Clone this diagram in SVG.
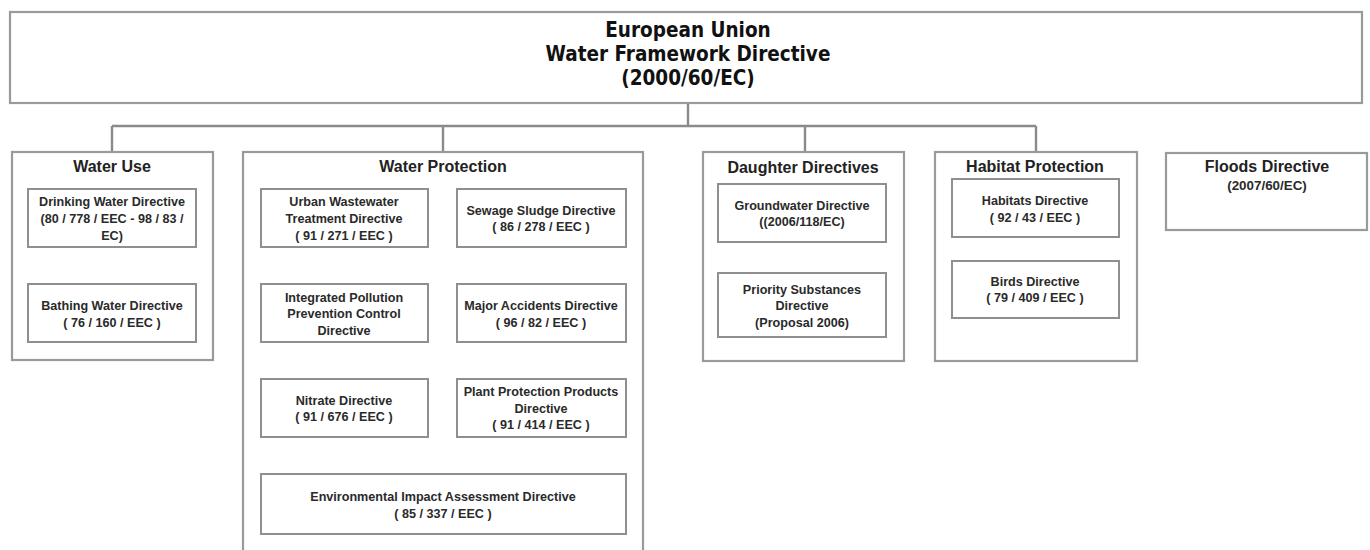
<svg xmlns="http://www.w3.org/2000/svg" width="1370" height="550" viewBox="0 0 1370 550">
<style>
.box{fill:#fff;stroke:#9a9a9a;stroke-width:2.2}
.in{fill:#fff;stroke:#8f8f8f;stroke-width:2}
.con{fill:none;stroke:#8a8a8a;stroke-width:2.4}
.top{font-family:"DejaVu Sans",sans-serif;font-stretch:condensed;font-weight:bold;font-size:20.5px;fill:#111;text-anchor:middle}
.sec{font-family:"Liberation Sans",Arial,sans-serif;font-weight:bold;font-size:16px;fill:#222;text-anchor:middle}
.t{font-family:"Liberation Sans",Arial,sans-serif;font-weight:bold;font-size:12.6px;fill:#2a2a2a;text-anchor:middle}
</style>
<rect width="1370" height="550" fill="#fff"/>
<g id="connectors">
<path class="con" d="M688 103V126M112 126H1036M112 126V152M443 126V152M805 126V152M1036 126V152"/>
</g>
<g id="wfd">
<rect class="box" x="10" y="12" width="1352" height="91"/>
<text class="top" x="688" y="37">European Union</text>
<text class="top" x="688" y="61">Water Framework Directive</text>
<text class="top" x="688" y="85">(2000/60/EC)</text>
</g>
<g id="water-use">
<rect class="box" x="12" y="152" width="201" height="208"/>
<text class="sec" x="112" y="172">Water Use</text>
</g>
<g id="drinking">
<rect class="in" x="28" y="189" width="168" height="58"/>
<text class="t" x="112" y="206">Drinking Water Directive</text>
<text class="t" x="112" y="223">(80 / 778 / EEC - 98 / 83 /</text>
<text class="t" x="112" y="240">EC)</text>
</g>
<g id="bathing">
<rect class="in" x="28" y="284" width="168" height="58"/>
<text class="t" x="112" y="310">Bathing Water Directive</text>
<text class="t" x="112" y="327">( 76 / 160 / EEC )</text>
</g>
<g id="water-protection">
<rect class="box" x="243" y="152" width="400" height="405"/>
<text class="sec" x="443" y="172">Water Protection</text>
</g>
<g id="urban">
<rect class="in" x="261" y="189" width="167" height="58"/>
<text class="t" x="344" y="206">Urban Wastewater</text>
<text class="t" x="344" y="223">Treatment Directive</text>
<text class="t" x="344" y="240">( 91 / 271 / EEC )</text>
</g>
<g id="sewage">
<rect class="in" x="457" y="189" width="169" height="58"/>
<text class="t" x="541" y="215">Sewage Sludge Directive</text>
<text class="t" x="541" y="231">( 86 / 278 / EEC )</text>
</g>
<g id="ippc">
<rect class="in" x="261" y="284" width="167" height="58"/>
<text class="t" x="344" y="302">Integrated Pollution</text>
<text class="t" x="344" y="318">Prevention Control</text>
<text class="t" x="344" y="335">Directive</text>
</g>
<g id="major">
<rect class="in" x="457" y="284" width="169" height="58"/>
<text class="t" x="541" y="310">Major Accidents Directive</text>
<text class="t" x="541" y="327">( 96 / 82 / EEC )</text>
</g>
<g id="nitrate">
<rect class="in" x="261" y="379" width="167" height="58"/>
<text class="t" x="344" y="405">Nitrate Directive</text>
<text class="t" x="344" y="421">( 91 / 676 / EEC )</text>
</g>
<g id="plant">
<rect class="in" x="457" y="379" width="169" height="58"/>
<text class="t" x="541" y="396">Plant Protection Products</text>
<text class="t" x="541" y="413">Directive</text>
<text class="t" x="541" y="429">( 91 / 414 / EEC )</text>
</g>
<g id="eia">
<rect class="in" x="261" y="474" width="365" height="60"/>
<text class="t" x="443" y="501">Environmental Impact Assessment Directive</text>
<text class="t" x="443" y="518">( 85 / 337 / EEC )</text>
</g>
<g id="daughter">
<rect class="box" x="703" y="152" width="201" height="209"/>
<text class="sec" x="803" y="173">Daughter Directives</text>
</g>
<g id="groundwater">
<rect class="in" x="718" y="184" width="168" height="58"/>
<text class="t" x="802" y="210">Groundwater Directive</text>
<text class="t" x="802" y="226">((2006/118/EC)</text>
</g>
<g id="priority">
<rect class="in" x="718" y="273" width="168" height="64"/>
<text class="t" x="802" y="294">Priority Substances</text>
<text class="t" x="802" y="310">Directive</text>
<text class="t" x="802" y="327">(Proposal 2006)</text>
</g>
<g id="habitat-protection">
<rect class="box" x="935" y="152" width="202" height="209"/>
<text class="sec" x="1035" y="172">Habitat Protection</text>
</g>
<g id="habitats">
<rect class="in" x="952" y="179" width="167" height="58"/>
<text class="t" x="1035" y="205">Habitats Directive</text>
<text class="t" x="1035" y="222">( 92 / 43 / EEC )</text>
</g>
<g id="birds">
<rect class="in" x="952" y="261" width="167" height="57"/>
<text class="t" x="1035" y="286">Birds Directive</text>
<text class="t" x="1035" y="302">( 79 / 409 / EEC )</text>
</g>
<g id="floods">
<rect class="box" x="1166" y="153" width="201" height="77"/>
<text class="sec" x="1267" y="172">Floods Directive</text>
<text class="t" x="1267" y="190" style="font-size:13.4px">(2007/60/EC)</text>
</g>
</svg>
